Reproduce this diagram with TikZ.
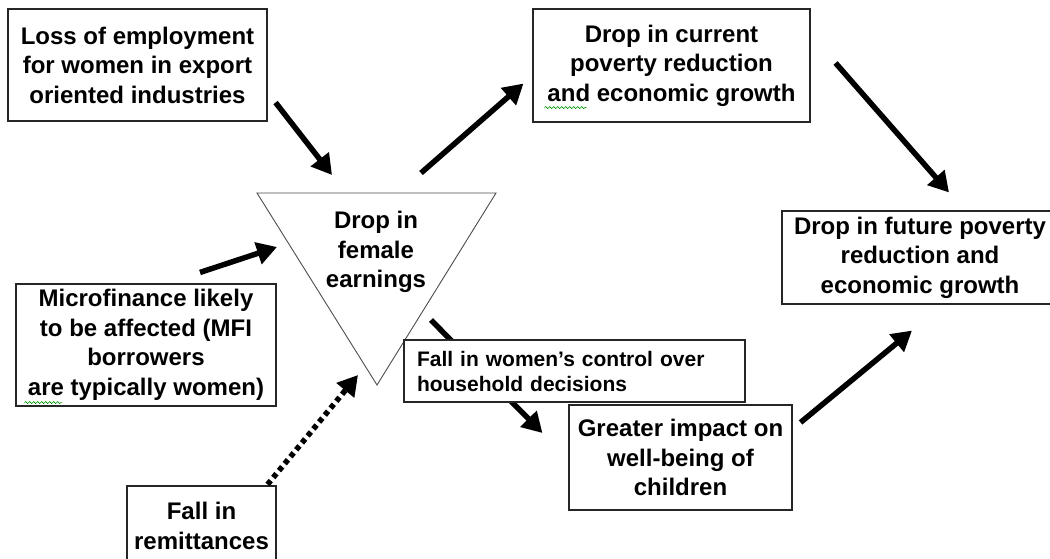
\documentclass[tikz,border=0pt]{standalone}
\usepackage{fontspec}
\setmainfont{Liberation Sans}
\usetikzlibrary{arrows.meta,decorations.pathmorphing}

\begin{document}
\begin{tikzpicture}[x=1pt,y=-1pt]
    \providecommand{\boxfontsize}{\fontsize{24}{29.5}\selectfont}
    \providecommand{\smallboxfontsize}{\fontsize{21}{25}\selectfont}
    \tikzset{
        box/.style={draw=black!85,line width=1.1pt,fill=white,align=center,inner sep=0,font=\bfseries\boxfontsize},
        arr/.style={line width=5.5pt,-{Triangle[length=20pt,width=22pt]}},
        spell/.style={green!60!black,line width=0.6pt,decorate,decoration={snake,amplitude=1pt,segment length=4pt}}
    }
    \useasboundingbox (0,0) rectangle (1050,559);
    % the triangle in the middle
    \coordinate (tl) at (257,193);
    \coordinate (tr) at (496,193);
    \coordinate (tb) at (377,385);
    \draw[black!70,line width=0.9pt] (tl) -- (tr) -- (tb) -- cycle;
    \node[font=\bfseries\boxfontsize,align=center,inner sep=0](earn) at (376,252){Drop in\\female\\earnings};
    % boxes
    \node[box,minimum width=259pt,minimum height=112pt](lossbox) at (137.5,65){Loss of employment\\for women in export\\oriented industries};
    \node[box,minimum width=277pt,minimum height=113pt](curbox) at (671.5,65.5){Drop in current\\poverty reduction\\and economic growth};
    \node[box,minimum width=276pt,minimum height=93pt](futbox) at (920,257.5){Drop in future poverty\\reduction and\\economic growth};
    \node[box,minimum width=260pt,minimum height=122pt](mfibox) at (146,345){Microfinance likely\\to be affected (MFI\\borrowers\\are typically women)};
    \node[box,minimum width=149pt,minimum height=80pt](remitbox) at (201.5,526){Fall in\\remittances};
    \node[box,minimum width=223pt,minimum height=105pt](childbox) at (680.5,457.5){Greater impact on\\well-being of\\children};
    % arrows
    \draw[arr] ([shift={(8,-19)}]lossbox.south east) -- ([shift={(75,-18)}]tl);
    \draw[arr] ([shift={(-75,-20)}]tr) -- ([shift={(-9,-39)}]curbox.south west);
    \draw[arr] ([shift={(25,-2.5)}]curbox.east) -- ([shift={(29,-18)}]futbox.north);
    \draw[arr] ([shift={(54,-11)}]mfibox.north) -- ([shift={(20,54)}]tl);
    \draw[arr,dash pattern=on 5pt off 4pt] ([shift={(-9,-1)}]remitbox.north east) -- ([shift={(-19,-10)}]tb);
    \draw[arr] ([shift={(55,68)}]earn.center) -- ([shift={(-26,-24.5)}]childbox.west);
    \draw[arr] ([shift={(8,18)}]childbox.north east) -- ([shift={(-8,26)}]futbox.south);
    % this box sits on top of the arrow
    \node[box,align=left,text width=315pt,inner xsep=13pt,minimum height=62pt,font=\bfseries\smallboxfontsize](ctrlbox) at (574.5,371){Fall in women's control over\\household decisions};
    % spell check marks
    \draw[spell] ([shift={(12,-15)}]curbox.south west) -- ++(42,0);
    \draw[spell] ([shift={(9,-4)}]mfibox.south west) -- ++(38,0);
\end{tikzpicture}
\end{document}
